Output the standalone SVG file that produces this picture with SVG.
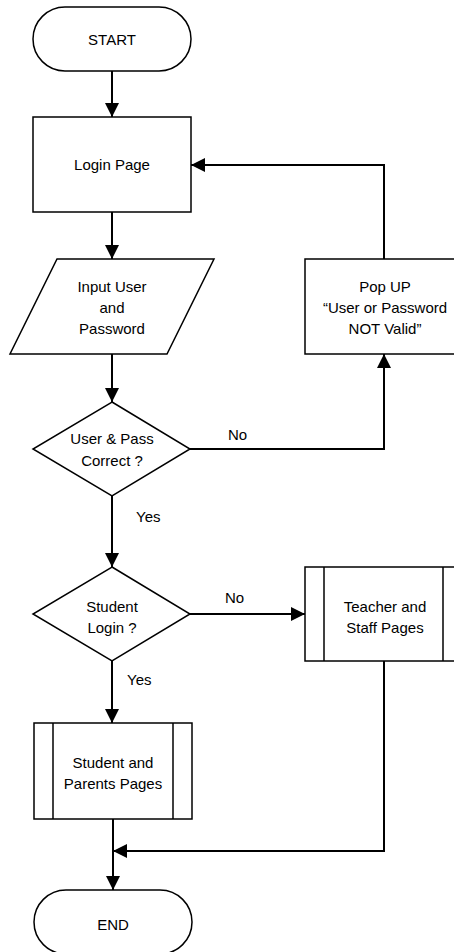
<svg xmlns="http://www.w3.org/2000/svg" width="454" height="952" viewBox="0 0 454 952">
<defs>
<marker id="arr" viewBox="0 0 14 14" refX="14" refY="7" markerWidth="14" markerHeight="14" markerUnits="userSpaceOnUse" orient="auto">
<path d="M0,0 L14,7 L0,14 Z" fill="#000"/>
</marker>
</defs>
<style>
.shape{fill:#fff;stroke:#000;stroke-width:1.5}
.conn{fill:none;stroke:#000;stroke-width:2}
text{font-family:"Liberation Sans",Arial,sans-serif;font-size:15px;fill:#000;text-anchor:middle}
.lbl{text-anchor:start}
</style>
<rect width="454" height="952" fill="#fff"/>
<g id="connectors">
<path class="conn" d="M112,71 V117" marker-end="url(#arr)"/>
<path class="conn" d="M112,212 V259" marker-end="url(#arr)"/>
<path class="conn" d="M384,259 V165 H191" marker-end="url(#arr)"/>
<path class="conn" d="M112,354 V402" marker-end="url(#arr)"/>
<path class="conn" d="M190,449 H384 V354" marker-end="url(#arr)"/>
<path class="conn" d="M112,496 V567" marker-end="url(#arr)"/>
<path class="conn" d="M190,614 H305" marker-end="url(#arr)"/>
<path class="conn" d="M112,661 V723" marker-end="url(#arr)"/>
<path class="conn" d="M113,819 V890" marker-end="url(#arr)"/>
<path class="conn" d="M384,661 V851 H113" marker-end="url(#arr)"/>
<text class="lbl" x="228" y="440">No</text>
<text class="lbl" x="136" y="522">Yes</text>
<text class="lbl" x="225" y="603">No</text>
<text class="lbl" x="127" y="685">Yes</text>
</g>
<g id="start">
<rect class="shape" x="33" y="7" width="158" height="64" rx="32" ry="32"/>
<text x="112" y="45">START</text>
</g>
<g id="login">
<rect class="shape" x="33" y="117" width="158" height="95"/>
<text x="112" y="170">Login Page</text>
</g>
<g id="input">
<polygon class="shape" points="57,259 214,259 167,354 10,354"/>
<text x="112" y="292">Input User</text>
<text x="112" y="313">and</text>
<text x="112" y="334">Password</text>
</g>
<g id="popup">
<rect class="shape" x="305" y="259" width="158" height="95"/>
<text x="385" y="292">Pop UP</text>
<text x="385" y="313">“User or Password</text>
<text x="385" y="334">NOT Valid”</text>
</g>
<g id="check">
<polygon class="shape" points="112,402 190,449 112,496 33,449"/>
<text x="112" y="444">User &amp; Pass</text>
<text x="112" y="466">Correct ?</text>
</g>
<g id="student-login">
<polygon class="shape" points="112,567 190,614 112,661 33,614"/>
<text x="112" y="612">Student</text>
<text x="112" y="633">Login ?</text>
</g>
<g id="teacher">
<rect class="shape" x="305" y="567" width="158" height="94"/>
<line class="shape" x1="324" y1="567" x2="324" y2="661"/>
<line class="shape" x1="443" y1="567" x2="443" y2="661"/>
<text x="385" y="612">Teacher and</text>
<text x="385" y="633">Staff Pages</text>
</g>
<g id="student">
<rect class="shape" x="34" y="723" width="158" height="96"/>
<line class="shape" x1="53" y1="723" x2="53" y2="819"/>
<line class="shape" x1="173" y1="723" x2="173" y2="819"/>
<text x="113" y="768">Student and</text>
<text x="113" y="789">Parents Pages</text>
</g>
<g id="end">
<rect class="shape" x="34" y="890" width="158" height="64" rx="32" ry="32"/>
<text x="113" y="930">END</text>
</g>
</svg>
